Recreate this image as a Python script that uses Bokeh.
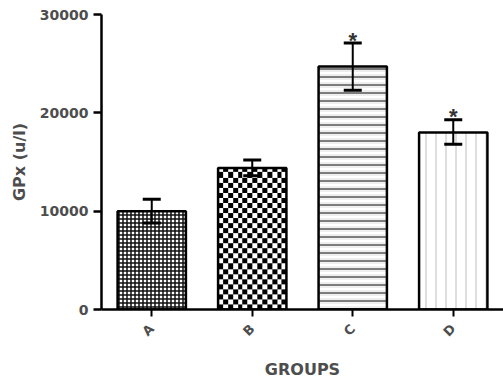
import math
import numpy as np
from bokeh.plotting import figure
from bokeh.models import (ColumnDataSource, Whisker, TeeHead, FixedTicker, Range1d,
                          NumeralTickFormatter)
from bokeh.transform import dodge
from bokeh.core.properties import value
from bokeh.embed import file_html
from bokeh.resources import INLINE

# ---- data ----
groups = ["A", "B", "C", "D"]
means = [10000, 14400, 24700, 18000]
upper = [11200, 15200, 27100, 19300]
lower = [8800, 13600, 22300, 16800]
stars = ["", "", "*", "*"]
y_ticks = [0, 10000, 20000, 30000]

GRAY = "#4d4d4d"

p = figure(width=503, height=381, x_range=groups, y_range=Range1d(0, 30000),
           output_backend="svg", toolbar_location=None,
           min_border_left=101, min_border_right=0, min_border_top=14, min_border_bottom=72)
p.outline_line_color = None
p.xgrid.grid_line_color = None
p.ygrid.grid_line_color = None

src = ColumnDataSource(dict(groups=groups, means=means, upper=upper, lower=lower, stars=stars))

W = 0.68
LW = 2.5
# A: fine grid
p.vbar(x=groups[0:1], top=means[0:1], width=W, fill_color="white", line_color="black", line_width=LW,
       hatch_pattern="+", hatch_scale=4, hatch_weight=1.5, hatch_color="#111111")

# B: checkerboard texture stretched over the bar (style only)
NX, NY = 14, 28
ii, jj = np.indices((NY, NX))
chk = np.where((ii + jj) % 2 == 0, np.uint32(0xFF000000), np.uint32(0xFFFFFFFF)).astype(np.uint32)
b_src = ColumnDataSource(dict(groups=groups[1:2], means=means[1:2], img=[chk]))
p.image_rgba(image="img", x=dodge("groups", -W / 2, range=p.x_range), y=0, dw=W, dh="means",
             source=b_src)
p.vbar(x=groups[1:2], top=means[1:2], width=W, fill_color=None, line_color="black", line_width=LW)

# C: horizontal lines
p.vbar(x=groups[2:3], top=means[2:3], width=W, fill_color="white", line_color=None,
       hatch_pattern="-", hatch_scale=4, hatch_weight=1, hatch_color="#dcdcdc")
p.vbar(x=groups[2:3], top=means[2:3], width=W, fill_color=None, line_color="black", line_width=LW,
       hatch_pattern="-", hatch_scale=8, hatch_weight=1.2, hatch_color="#222222")
# D: vertical light lines
p.vbar(x=groups[3:4], top=means[3:4], width=W, fill_color="white", line_color="black", line_width=LW,
       hatch_pattern="|", hatch_scale=10, hatch_weight=1, hatch_color="#bdbdbd")

wh = Whisker(source=src, base="groups", upper="upper", lower="lower", line_width=2, line_color="black",
             upper_head=TeeHead(size=18, line_width=3, line_color="black"),
             lower_head=TeeHead(size=18, line_width=3, line_color="black"), level="overlay")
p.add_layout(wh)

p.text(x="groups", y="upper", text="stars", source=src, text_align="center", text_baseline="alphabetic",
       y_offset=-3, text_font=value("Liberation Sans"), text_font_style="bold",
       text_font_size="22px", text_color="#333333")

# y axis
ya = p.yaxis[0]
ya.ticker = FixedTicker(ticks=y_ticks)
ya.formatter = NumeralTickFormatter(format="0")
ya.minor_tick_line_color = None
ya.major_tick_in = 0
ya.major_tick_out = 8
ya.major_tick_line_width = 2.5
ya.axis_line_width = 2.5
ya.major_label_standoff = 5
ya.major_label_text_font = "DejaVu Sans"
ya.major_label_text_font_style = "bold"
ya.major_label_text_font_size = "14px"
ya.major_label_text_color = GRAY
ya.axis_label = "GPx (u/l)"
ya.axis_label_text_font = "DejaVu Sans"
ya.axis_label_text_font_style = "bold"
ya.axis_label_text_font_size = "16px"
ya.axis_label_text_color = GRAY
ya.axis_label_standoff = 8

# x axis
xa = p.xaxis[0]
xa.major_tick_in = 0
xa.major_tick_out = 7
xa.major_tick_line_width = 2
xa.axis_line_width = 2.5
xa.minor_tick_line_color = None
xa.major_label_orientation = math.pi / 4
xa.major_label_standoff = 10
xa.major_label_text_font = "DejaVu Sans"
xa.major_label_text_font_style = "bold"
xa.major_label_text_font_size = "13px"
xa.major_label_text_color = GRAY
xa.axis_label = "GROUPS"
xa.axis_label_text_font = "DejaVu Sans"
xa.axis_label_text_font_style = "bold"
xa.axis_label_text_font_size = "16px"
xa.axis_label_text_color = GRAY
xa.axis_label_standoff = 12

open("out.html", "w").write(file_html(p, INLINE))
